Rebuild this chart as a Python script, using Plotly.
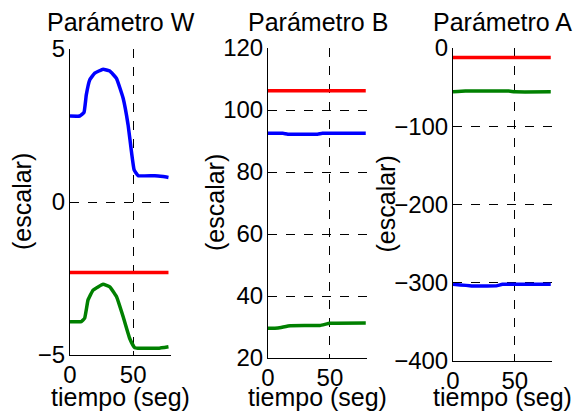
import plotly.graph_objects as go

# ---------------- data ----------------
# Parámetro W
w_blue_t = [0, 7.7, 11.1, 12.9, 15.6, 19.6, 26.2, 31.5, 36.8, 42.1, 46.0, 48.7, 50.8, 54.0, 67.2, 73.8, 78.0]
w_blue_y = [2.81, 2.81, 2.93, 3.50, 3.99, 4.21, 4.34, 4.28, 4.04, 3.39, 2.52, 1.64, 1.05, 0.86, 0.86, 0.83, 0.80]
w_red_t = [0, 78.0]
w_red_y = [-2.30, -2.30]
w_green_t = [0, 9.0, 11.6, 14.3, 18.3, 26.2, 31.5, 36.8, 42.1, 47.3, 51.3, 69.8, 78.0]
w_green_y = [-3.91, -3.91, -3.80, -3.20, -2.88, -2.69, -2.77, -3.09, -3.75, -4.46, -4.76, -4.78, -4.73]

# Parámetro B
b_red_t = [0, 79]
b_red_y = [106.2, 106.2]
b_blue_t = [0, 12, 16, 40, 44, 79]
b_blue_y = [92.5, 92.5, 92.2, 92.2, 92.5, 92.5]
b_green_t = [0, 8, 18, 42, 50, 79]
b_green_y = [29.6, 29.7, 30.4, 30.5, 31.2, 31.3]

# Parámetro A
a_red_t = [0, 79]
a_red_y = [-12, -12]
a_green_t = [0, 10, 45, 50, 79]
a_green_y = [-56, -55, -55, -56, -56]
a_blue_t = [0, 15, 35, 40, 79]
a_blue_y = [-302, -304, -304, -302, -302]

titles = ["Parámetro W", "Parámetro B", "Parámetro A"]
y_ranges = [[-5, 5], [20, 120], [-400, 0]]
y_ticks = [[-5, 0, 5], [20, 40, 60, 80, 100, 120], [-400, -300, -200, -100, 0]]
x_ticks = [0, 50]
x_range = [0, 80]
y_label = "(escalar)"
x_label = "tiempo (seg)"

# ---------------- layout ----------------
W, H = 579, 412
FONT = "Liberation Sans, Arial, sans-serif"
BLUE, RED, GREEN = "#0000FF", "#FF0000", "#008000"

x_px = [(70, 171), (268, 367), (453, 552)]
y_px = [(49, 355), (48, 358), (48, 361)]

fig = go.Figure()

series = [
    [(w_blue_t, w_blue_y, BLUE), (w_red_t, w_red_y, RED), (w_green_t, w_green_y, GREEN)],
    [(b_red_t, b_red_y, RED), (b_blue_t, b_blue_y, BLUE), (b_green_t, b_green_y, GREEN)],
    [(a_red_t, a_red_y, RED), (a_green_t, a_green_y, GREEN), (a_blue_t, a_blue_y, BLUE)],
]

for i in range(3):
    xa = "x" if i == 0 else f"x{i+1}"
    ya = "y" if i == 0 else f"y{i+1}"
    for t, v, c in series[i]:
        fig.add_trace(go.Scatter(x=t, y=v, mode="lines",
                                 line=dict(color=c, width=3.5, shape="spline", smoothing=0.3),
                                 xaxis=xa, yaxis=ya, showlegend=False))
    xl, xr = x_px[i]
    yt, yb = y_px[i]
    axis_common = dict(showline=True, linecolor="black", linewidth=1, mirror=False,
                       showgrid=True, gridcolor="black", griddash="dash", gridwidth=1,
                       zeroline=False, ticks="inside", ticklen=4, tickcolor="black",
                       automargin=False,
                       tickfont=dict(family=FONT, size=24, color="black"))
    xkey = "xaxis" if i == 0 else f"xaxis{i+1}"
    ykey = "yaxis" if i == 0 else f"yaxis{i+1}"
    fig.update_layout(**{
        xkey: dict(domain=[xl / W, xr / W], range=x_range, tickvals=x_ticks,
                   anchor=ya, ticklabelstandoff=-2, **axis_common),
        ykey: dict(domain=[1 - yb / H, 1 - yt / H], range=y_ranges[i], tickvals=y_ticks[i],
                   anchor=xa, ticklabelstandoff=-1, **axis_common),
    })
    # subplot title
    fig.add_annotation(x=(xl + xr) / 2 / W, y=1 - 22 / H, xref="paper", yref="paper",
                       text=titles[i], showarrow=False, xanchor="center", yanchor="middle",
                       font=dict(family=FONT, size=25, color="black"))
    # x label
    fig.add_annotation(x=(xl + xr) / 2 / W, y=1 - 397 / H, xref="paper", yref="paper",
                       text=x_label, showarrow=False, xanchor="center", yanchor="middle",
                       font=dict(family=FONT, size=25, color="black"))

ylab_x = [22, 215, 386]
for i in range(3):
    yt, yb = y_px[i]
    fig.add_annotation(x=ylab_x[i] / W, y=1 - ((yt + yb) / 2) / H, xref="paper", yref="paper",
                       text=y_label, showarrow=False, textangle=-90, xanchor="center",
                       yanchor="middle", font=dict(family=FONT, size=25, color="black"))

fig.update_layout(template="none", width=W, height=H, margin=dict(l=0, r=0, t=0, b=0),
                  paper_bgcolor="white", plot_bgcolor="white")

fig.write_html("out.html")
